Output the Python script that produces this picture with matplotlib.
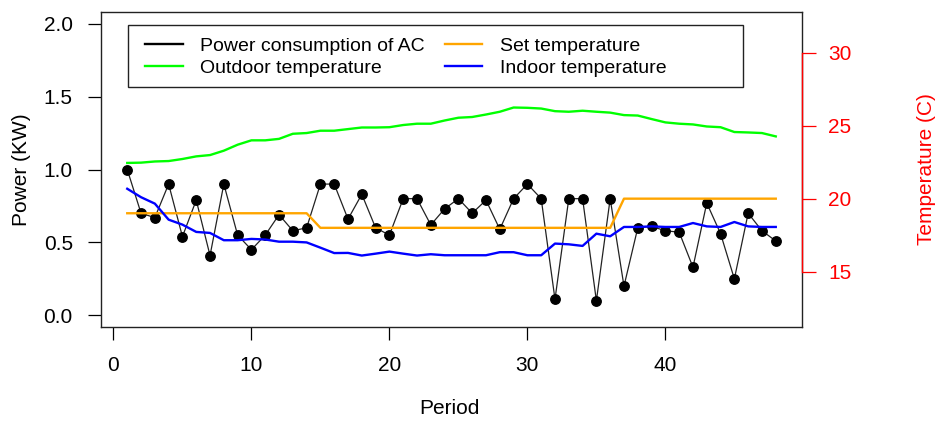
import numpy as np
import matplotlib
matplotlib.use('Agg')
import matplotlib.pyplot as plt
from matplotlib.patches import Rectangle
from matplotlib.lines import Line2D

plt.rcParams['font.family'] = ['Liberation Sans', 'DejaVu Sans']

period = list(range(1, 49))

power = [1.00, 0.70, 0.67, 0.90, 0.54, 0.79, 0.41, 0.90, 0.55, 0.45,
         0.55, 0.69, 0.58, 0.60, 0.90, 0.90, 0.66, 0.83, 0.60, 0.55,
         0.80, 0.80, 0.62, 0.73, 0.80, 0.70, 0.79, 0.59, 0.80, 0.90,
         0.80, 0.11, 0.80, 0.80, 0.10, 0.80, 0.20, 0.60, 0.61, 0.58,
         0.57, 0.33, 0.77, 0.56, 0.25, 0.70, 0.58, 0.51]

set_temp = [19] * 14 + [18] * 22 + [20] * 12

outdoor_temp = [22.45, 22.47, 22.55, 22.58, 22.72, 22.90, 22.99, 23.29, 23.70, 24.00,
                24.00, 24.10, 24.45, 24.50, 24.66, 24.66, 24.77, 24.88, 24.88, 24.90,
                25.05, 25.14, 25.14, 25.36, 25.55, 25.60, 25.77, 25.96, 26.25, 26.23,
                26.18, 26.00, 25.96, 26.03, 25.96, 25.90, 25.73, 25.70, 25.46, 25.23,
                25.14, 25.09, 24.95, 24.90, 24.57, 24.54, 24.50, 24.27]

indoor_temp = [20.68, 20.10, 19.66, 18.56, 18.22, 17.72, 17.65, 17.15, 17.15, 17.24,
               17.20, 17.05, 17.05, 17.00, 16.64, 16.27, 16.28, 16.10, 16.23, 16.37,
               16.23, 16.10, 16.19, 16.12, 16.12, 16.12, 16.12, 16.33, 16.33, 16.12,
               16.12, 16.92, 16.87, 16.76, 17.60, 17.42, 18.06, 18.06, 18.10, 18.06,
               18.06, 18.33, 18.10, 18.06, 18.40, 18.10, 18.06, 18.06]

W, H = 939, 421
fig = plt.figure(figsize=(W / 100, H / 100), dpi=100)
ax = fig.add_axes([101.3 / W, 1 - 327 / H, 700.4 / W, 315 / H])

ax.plot(period, power, '-', color='#222222', lw=0.9)
ax.plot(period, power, 'o', color='black', ms=6.8)
ax.set_xlim(1 - 1.88, 48 + 1.88)
ax.set_ylim(-0.08, 2.08)
ax.set_xticks([0, 10, 20, 30, 40])
ax.set_yticks([0.0, 0.5, 1.0, 1.5, 2.0])
ax.set_yticklabels(['0.0', '0.5', '1.0', '1.5', '2.0'])
ax.tick_params(axis='x', length=9, width=0.9, pad=12, labelsize=15, direction='out')
ax.tick_params(axis='y', length=9.5, width=0.9, pad=11, labelsize=15, direction='out')
for s in ax.spines.values():
    s.set_linewidth(1.0)
    s.set_color('#222222')

ax2 = ax.twinx()
ax2.plot(period, outdoor_temp, color='#00FF00', lw=1.7)
ax2.plot(period, set_temp, color='orange', lw=1.7)
ax2.plot(period, indoor_temp, color='blue', lw=1.7)
ax2.set_ylim(11.2, 32.8)
ax2.set_yticks([15, 20, 25, 30])
ax2.tick_params(axis='y', colors='red', length=10, width=0.9, pad=9, labelsize=15)
for k in ['left', 'top', 'bottom']:
    ax2.spines[k].set_visible(False)
ax2.spines['right'].set_color('red')
ax2.spines['right'].set_bounds(15, 30)
ax2.spines['right'].set_linewidth(1.0)

fig.text(22 / W, 1 - 169.5 / H, 'Power (KW)', rotation=90, ha='center', va='center', fontsize=15)
fig.text(926 / W, 1 - 169.5 / H, 'Temperature (C)', rotation=90, ha='center', va='center',
         fontsize=15, color='red')
fig.text(449 / W, 1 - 409 / H, 'Period', ha='center', va='center', fontsize=15)

# legend
handles = [Line2D([], [], color='black', lw=1.7),
           Line2D([], [], color='#00FF00', lw=1.7),
           Line2D([], [], color='orange', lw=1.7),
           Line2D([], [], color='blue', lw=1.7)]
labels = ['Power consumption of AC', 'Outdoor temperature', 'Set temperature', 'Indoor temperature']
fig.legend(handles, labels, ncol=2, frameon=False, loc='upper left',
           bbox_to_anchor=(145 / W, 1 - 37.5 / H), borderaxespad=0, borderpad=0,
           fontsize=14, handlelength=1.94, handletextpad=0.89, columnspacing=1.03,
           labelspacing=0.2)
fig.add_artist(Rectangle((128.3 / W, 1 - 86.7 / H), 615 / W, 61.7 / H,
                         transform=fig.transFigure, fill=False, lw=1.0, ec='#222222'))

fig.savefig('out.png', dpi=100)
